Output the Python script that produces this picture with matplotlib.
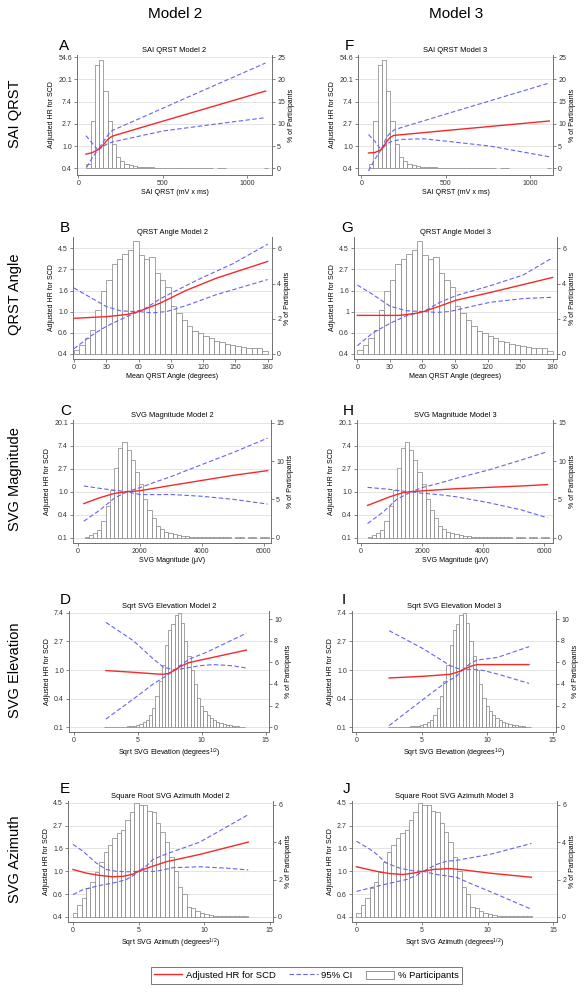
import numpy as np
import matplotlib.pyplot as plt
from matplotlib.lines import Line2D
from matplotlib.patches import Patch

plt.rcParams['font.family'] = ['Liberation Sans', 'DejaVu Sans']
plt.rcParams['mathtext.default'] = 'regular'

W, H = 584, 994

# histograms: % of participants per bin (same for both models)
sai_bins = (47.5, 25)
sai_pct = [1.0, 10.6, 23.2, 24.4, 17.4, 10.6, 5.5, 2.6, 1.6, 1.0, 0.7, 0.5, 0.4, 0.3,
           0.25, 0.2, 0.15, 0.12, 0.1, 0.08, 0.07, 0.06, 0.05, 0.04, 0.03, 0.03, 0.02,
           0.02, 0.01, 0.01, 0, 0.01, 0.01, 0, 0, 0, 0, 0, 0, 0, 0, 0, 0.01]

qrst_bins = (0, 5)
qrst_pct = [0.2, 0.5, 0.9, 1.35, 2.5, 3.6, 4.2, 5.1, 5.4, 5.7, 5.9, 6.4, 5.6, 5.4, 5.5,
            4.6, 4.2, 3.8, 2.7, 2.3, 1.9, 1.6, 1.3, 1.2, 1.0, 0.9, 0.75, 0.65, 0.55,
            0.5, 0.45, 0.4, 0.35, 0.35, 0.3, 0.15]

svg_bins = (230, 135)
svg_pct = [0.1, 0.3, 0.6, 1.0, 2.2, 4.1, 6.2, 9.1, 11.7, 12.5, 11.4, 10.1, 8.6, 7.0,
           5.1, 3.6, 2.6, 1.5, 1.1, 0.75, 0.55, 0.4, 0.3, 0.2, 0.15, 0.1, 0.08, 0.06,
           0.05, 0.04, 0.03, 0.02, 0.02, 0.01, 0.01, 0, 0.01, 0.01, 0, 0.01, 0.01, 0,
           0.01, 0.01]

elev_bins = (2.375, 0.25)
elev_pct = [0.01, 0.01, 0.01, 0.015, 0.02, 0.03, 0.04, 0.06, 0.09, 0.14, 0.2, 0.3,
            0.45, 0.7, 1.1, 1.8, 2.9, 4.3, 5.8, 7.6, 9.0, 9.6, 10.4, 10.6, 9.7, 8.0,
            6.6, 5.3, 4.0, 2.7, 2.0, 1.5, 1.1, 0.85, 0.65, 0.5, 0.4, 0.3, 0.22, 0.17,
            0.12, 0.08, 0.05, 0.03]

azim_bins = (0, 1 / 3)
azim_pct = [0.2, 0.64, 1.0, 1.53, 1.85, 2.38, 2.92, 3.45, 3.84, 4.2, 4.5, 4.63, 5.18,
            5.62, 6.07, 6.0, 6.0, 5.68, 5.62, 5.05, 4.56, 4.0, 3.2, 2.47, 1.6, 1.23,
            0.55, 0.48, 0.3, 0.23, 0.14, 0.09, 0.07, 0.07, 0.07, 0.07, 0.07, 0.07,
            0.07, 0.07]

# spline fits: (x, log HR) for fit, lower and upper 95% CI
sai_fit_m2 = [(45, -0.36), (80, -0.30), (115, -0.17), (130, -0.08), (150, 0.08), (170, 0.27),
              (190, 0.40), (210, 0.47), (400, 0.90), (700, 1.57), (1107, 2.48)]
sai_lo_m2 = [(50, -0.95), (80, -0.55), (115, -0.17), (150, 0.0), (175, 0.12), (210, 0.20),
             (500, 0.68), (800, 0.98), (1107, 1.28)]
sai_hi_m2 = [(45, 0.47), (80, 0.15), (115, -0.17), (150, 0.22), (175, 0.50), (200, 0.70),
             (400, 1.37), (700, 2.38), (1107, 3.74)]

sai_fit_m3 = [(43, -0.31), (80, -0.29), (118, -0.16), (130, -0.03), (150, 0.20), (170, 0.38),
              (191, 0.48), (500, 0.70), (1112, 1.13)]
sai_lo_m3 = [(43, -1.12), (80, -0.60), (118, -0.16), (150, 0.08), (175, 0.20), (230, 0.30),
             (368, 0.33), (506, 0.22), (762, 0.0), (1112, -0.48)]
sai_hi_m3 = [(43, 0.52), (80, 0.22), (118, -0.16), (150, 0.40), (175, 0.62), (201, 0.75),
             (500, 1.44), (1112, 2.84)]

qrst_fit_m2 = [(0, -0.16), (30, -0.12), (49, -0.07), (60, 0.0), (80, 0.20), (104, 0.50),
               (132, 0.79), (180, 1.19)]
qrst_lo_m2 = [(0, -0.88), (15, -0.59), (30, -0.35), (49, -0.12), (60, 0.0), (73, -0.03),
              (86, 0.0), (104, 0.14), (132, 0.40), (180, 0.76)]
qrst_hi_m2 = [(0, 0.56), (15, 0.34), (30, 0.12), (43, 0.02), (55, 0.0), (64, 0.04), (80, 0.30),
              (92, 0.46), (117, 0.78), (148, 1.14), (180, 1.60)]

qrst_fit_m3 = [(0, -0.09), (39, -0.09), (54, -0.04), (61, 0.0), (76, 0.13), (91, 0.27),
               (122, 0.45), (180, 0.81)]
qrst_lo_m3 = [(0, -0.81), (14, -0.51), (30, -0.28), (45, -0.10), (61, 0.0), (73, -0.02),
              (85, 0.0), (98, 0.08), (122, 0.22), (153, 0.31), (180, 0.34)]
qrst_hi_m3 = [(0, 0.63), (14, 0.41), (30, 0.13), (45, 0.02), (61, 0.0), (76, 0.22), (91, 0.38),
              (122, 0.61), (153, 0.87), (180, 1.28)]

svg_fit_m2 = [(200, -0.52), (700, -0.27), (1200, -0.07), (1600, 0.0), (2000, 0.04),
              (3000, 0.27), (4000, 0.49), (5000, 0.71), (6130, 0.92)]
svg_lo_m2 = [(200, -1.29), (700, -0.82), (1200, -0.27), (1600, 0.0), (2000, -0.12),
             (2500, -0.13), (3000, -0.12), (4000, -0.20), (5000, -0.33), (6130, -0.54)]
svg_hi_m2 = [(200, 0.25), (700, 0.15), (1200, 0.06), (1600, 0.0), (2000, 0.17), (2500, 0.42),
             (3000, 0.65), (4000, 1.18), (5000, 1.70), (6130, 2.34)]

svg_fit_m3 = [(216, -0.60), (950, -0.22), (1382, -0.04), (1650, 0.0), (2030, 0.04),
              (3110, 0.13), (4190, 0.19), (5270, 0.25), (6112, 0.31)]
svg_lo_m3 = [(216, -1.39), (734, -0.88), (1166, -0.34), (1650, 0.0), (2030, -0.07),
             (2570, -0.13), (3110, -0.22), (4190, -0.48), (5270, -0.80), (6112, -1.14)]
svg_hi_m3 = [(216, 0.19), (950, 0.10), (1400, 0.02), (1650, 0.0), (2030, 0.19), (2570, 0.37),
             (3110, 0.58), (4190, 0.95), (5270, 1.39), (6112, 1.75)]

elev_fit_m2 = [(2.5, -0.02), (4.64, -0.08), (6.46, -0.14), (7.0, -0.15), (7.4, -0.12),
               (7.9, 0.0), (8.3, 0.12), (9.0, 0.26), (11.15, 0.47), (13.49, 0.70)]
elev_lo_m2 = [(2.5, -1.72), (4.64, -1.02), (6.2, -0.49), (7.24, -0.20), (7.9, 0.0), (8.8, 0.07),
              (9.84, 0.15), (10.9, 0.19), (12.4, 0.15), (13.49, 0.07)]
elev_hi_m2 = [(2.5, 1.67), (4.64, 1.03), (6.2, 0.39), (7.0, 0.10), (7.9, 0.0), (8.3, 0.16),
              (9.06, 0.39), (10.36, 0.62), (13.49, 1.29)]

elev_fit_m3 = [(2.5, -0.28), (5.13, -0.22), (7.18, -0.15), (7.69, -0.08), (8.1, 0.0),
               (8.85, 0.15), (9.23, 0.19), (13.2, 0.19)]
elev_lo_m3 = [(2.5, -1.95), (5.13, -1.02), (6.67, -0.49), (7.69, -0.20), (8.1, 0.0),
              (8.97, 0.02), (9.74, -0.02), (10.77, -0.14), (13.2, -0.47)]
elev_hi_m3 = [(2.5, 1.38), (5.13, 0.74), (7.18, 0.15), (8.1, 0.0), (8.72, 0.23), (9.23, 0.35),
              (10.77, 0.44), (13.2, 0.82)]

azim_fit_m2 = [(0, 0.04), (1.02, -0.04), (2.04, -0.09), (3.05, -0.12), (3.82, -0.11),
               (4.58, -0.06), (5.0, 0.0), (5.85, 0.09), (7.12, 0.21), (9.67, 0.37), (13.36, 0.64)]
azim_lo_m2 = [(0, -0.51), (0.76, -0.40), (2.04, -0.31), (3.31, -0.24), (4.07, -0.18),
              (4.6, -0.09), (5.0, 0.0), (5.5, 0.0), (6.36, 0.0), (7.63, 0.08), (9.67, 0.10),
              (11.7, 0.07), (13.36, 0.03)]
azim_hi_m2 = [(0, 0.59), (0.76, 0.44), (1.78, 0.18), (2.54, 0.04), (3.31, 0.0), (4.2, -0.01),
              (5.0, 0.0), (5.6, 0.12), (6.1, 0.26), (7.12, 0.38), (9.67, 0.64), (13.36, 1.24)]

azim_fit_m3 = [(0, 0.10), (1.52, 0.0), (2.54, -0.05), (3.55, -0.07), (4.31, -0.04), (5.08, 0.0),
               (5.84, 0.04), (7.1, 0.06), (7.87, 0.04), (10.15, -0.04), (13.32, -0.13)]
azim_lo_m3 = [(0, -0.44), (1.52, -0.33), (2.54, -0.26), (3.8, -0.18), (4.57, -0.09),
              (5.08, 0.0), (6.09, -0.07), (7.61, -0.13), (8.63, -0.26), (10.15, -0.44),
              (13.32, -0.83)]
azim_hi_m3 = [(0, 0.66), (1.27, 0.44), (2.28, 0.18), (3.3, 0.07), (4.31, 0.01), (5.08, 0.0),
              (6.09, 0.15), (6.85, 0.22), (7.61, 0.24), (10.15, 0.37), (13.32, 0.61)]

RED = '#f42a2a'
BLUE = '#6464f0'
BAR_EDGE = '#808080'
AXCOL = '#707070'
GRID = '#e4e4e4'

fig = plt.figure(figsize=(W / 100, H / 100), dpi=100)


def fig_rect(left, top, right, bottom):
    return [left / W, 1 - bottom / H, (right - left) / W, (bottom - top) / H]


def hr_labels(ticks):
    return ['%.1f' % np.exp(t) for t in ticks]


def draw_panel(box, letter, letter_xy, title, xlabel, bins, pct, curves, xlim, xticks,
               ylim, yticks, ylabels, pct_lim, pct_ticks):
    start, width = bins
    pct = np.array(pct, dtype=float)
    centers = start + width * (np.arange(len(pct)) + 0.5)
    keep = pct > 0

    ax_h = fig.add_axes(fig_rect(*box))
    ax_h.set_xlim(xlim)
    ax_h.set_ylim(pct_lim)

    # grid lines at the HR ticks, behind the bars
    for t in yticks:
        frac = (t - ylim[0]) / (ylim[1] - ylim[0])
        ax_h.plot([0, 1], [frac, frac], transform=ax_h.transAxes, color=GRID,
                  lw=0.7, zorder=0)

    ax_h.bar(centers[keep], pct[keep], width=width, facecolor='white',
             edgecolor=BAR_EDGE, linewidth=0.5, zorder=2)

    ax_c = ax_h.twinx()
    ax_c.set_ylim(ylim)
    fit, lo, hi = curves
    for pts in (lo, hi):
        x, y = zip(*pts)
        ax_c.plot(x, y, color=BLUE, lw=0.8, dashes=(4, 2.2))
    x, y = zip(*fit)
    ax_c.plot(x, y, color=RED, lw=1.0)

    ax_h.yaxis.tick_right()
    ax_h.yaxis.set_label_position('right')
    ax_h.set_yticks(pct_ticks)
    ax_h.set_xticks(xticks)
    ax_h.set_ylabel('% of Participants', fontsize=5.0, labelpad=2)
    ax_h.set_xlabel(xlabel, fontsize=5.1, labelpad=1.5)
    ax_h.set_title(title, fontsize=5.4, pad=2.5)

    ax_c.yaxis.tick_left()
    ax_c.yaxis.set_label_position('left')
    ax_c.set_yticks(yticks)
    ax_c.set_yticklabels(ylabels)
    ax_c.set_ylabel('Adjusted HR for SCD', fontsize=5.0, labelpad=2)

    for a in (ax_h, ax_c):
        a.tick_params(direction='out', length=2.2, width=0.6, color=AXCOL,
                      labelsize=5.0, pad=1.5, labelcolor='#333333')
        a.spines['top'].set_visible(False)
    for s in ax_c.spines.values():
        s.set_visible(False)
    for s in ('left', 'bottom', 'right'):
        ax_h.spines[s].set_color(AXCOL)
        ax_h.spines[s].set_linewidth(0.7)

    fig.text(letter_xy[0] / W, 1 - letter_xy[1] / H, letter, fontsize=11,
             ha='left', va='baseline')


sai_yt = [-1, 0, 1, 2, 3, 4]
half_yt = [-1, -0.5, 0, 0.5, 1, 1.5]
svg_yt = [-2, -1, 0, 1, 2, 3]
elev_yt = [-2, -1, 0, 1, 2]

qrst_labels_m3 = hr_labels(half_yt)
qrst_labels_m3[2] = '1'

panels = [
    # SAI QRST
    ((77, 55, 272, 175), 'A', (59, 50), 'SAI QRST Model 2', 'SAI QRST (mV x ms)',
     sai_bins, sai_pct, (sai_fit_m2, sai_lo_m2, sai_hi_m2), (-8, 1145), [0, 500, 1000],
     (-1.3, 4.1), sai_yt, hr_labels(sai_yt), (-1.5, 25.5), [0, 5, 10, 15, 20, 25]),
    ((358, 55, 553, 175), 'F', (345, 50), 'SAI QRST Model 3', 'SAI QRST (mV x ms)',
     sai_bins, sai_pct, (sai_fit_m3, sai_lo_m3, sai_hi_m3), (-19, 1134), [0, 500, 1000],
     (-1.3, 4.1), sai_yt, hr_labels(sai_yt), (-1.5, 25.5), [0, 5, 10, 15, 20, 25]),
    # QRST angle
    ((73, 237, 272, 359), 'B', (60, 232), 'QRST Angle Model 2', 'Mean QRST Angle (degrees)',
     qrst_bins, qrst_pct, (qrst_fit_m2, qrst_lo_m2, qrst_hi_m2), (-0.9, 184),
     list(range(0, 181, 30)), (-1.125, 1.77), half_yt, hr_labels(half_yt), (-0.3, 6.65),
     [0, 2, 4, 6]),
    ((354, 237, 557, 359), 'G', (341, 232), 'QRST Angle Model 3', 'Mean QRST Angle (degrees)',
     qrst_bins, qrst_pct, (qrst_fit_m3, qrst_lo_m3, qrst_hi_m3), (-3.1, 184),
     list(range(0, 181, 30)), (-1.125, 1.77), half_yt, qrst_labels_m3, (-0.3, 6.65),
     [0, 2, 4, 6]),
    # SVG magnitude
    ((73, 420, 271, 543), 'C', (60, 415), 'SVG Magnitude Model 2', 'SVG Magnitude (μV)',
     svg_bins, svg_pct, (svg_fit_m2, svg_lo_m2, svg_hi_m2), (-148, 6239),
     [0, 2000, 4000, 6000], (-2.24, 3.13), svg_yt, hr_labels(svg_yt), (-0.72, 15.39),
     [0, 5, 10, 15]),
    ((357, 420, 553, 543), 'H', (343, 415), 'SVG Magnitude Model 3', 'SVG Magnitude (μV)',
     svg_bins, svg_pct, (svg_fit_m3, svg_lo_m3, svg_hi_m3), (-130, 6294),
     [0, 2000, 4000, 6000], (-2.24, 3.13), svg_yt, hr_labels(svg_yt), (-0.72, 15.39),
     [0, 5, 10, 15]),
    # SVG elevation
    ((69, 611, 269, 732), 'D', (60, 604), 'Sqrt SVG Elevation Model 2',
     'Sqrt SVG Elevation (degrees$^{1/2}$)', elev_bins, elev_pct,
     (elev_fit_m2, elev_lo_m2, elev_hi_m2), (-0.39, 15.26), [0, 5, 10, 15],
     (-2.175, 2.07), elev_yt, hr_labels(elev_yt), (-0.46, 10.78), [0, 2, 4, 6, 8, 10]),
    ((352, 611, 556, 732), 'I', (342, 604), 'Sqrt SVG Elevation Model 3',
     'Sqrt SVG Elevation (degrees$^{1/2}$)', elev_bins, elev_pct,
     (elev_fit_m3, elev_lo_m3, elev_hi_m3), (-0.34, 15.26), [0, 5, 10, 15],
     (-2.175, 2.07), elev_yt, hr_labels(elev_yt), (-0.46, 10.78), [0, 2, 4, 6, 8, 10]),
    # SVG azimuth
    ((68, 801, 273, 922), 'E', (60, 793), 'Square Root SVG Azimuth Model 2',
     'Sqrt SVG Azimuth (degrees$^{1/2}$)', azim_bins, azim_pct,
     (azim_fit_m2, azim_lo_m2, azim_hi_m2), (-0.38, 15.25), [0, 5, 10, 15],
     (-1.11, 1.54), half_yt, hr_labels(half_yt), (-0.27, 6.2), [0, 2, 4, 6]),
    ((352, 801, 557, 922), 'J', (343, 793), 'Square Root SVG Azimuth Model 3',
     'Sqrt SVG Azimuth (degrees$^{1/2}$)', azim_bins, azim_pct,
     (azim_fit_m3, azim_lo_m3, azim_hi_m3), (-0.34, 15.27), [0, 5, 10, 15],
     (-1.11, 1.54), half_yt, hr_labels(half_yt), (-0.27, 6.2), [0, 2, 4, 6]),
]

for p in panels:
    draw_panel(*p)

# column and row headings
fig.text(175 / W, 1 - 14 / H, 'Model 2', fontsize=11, ha='center', va='center')
fig.text(456 / W, 1 - 14 / H, 'Model 3', fontsize=11, ha='center', va='center')

row_names = ['SAI QRST', 'QRST Angle', 'SVG Magnitude', 'SVG Elevation', 'SVG Azimuth']
row_y = [114, 294, 479, 670, 859]
for name, y in zip(row_names, row_y):
    fig.text(15 / W, 1 - y / H, name, fontsize=10.5, rotation=90, ha='center', va='center')

handles = [Line2D([], [], color=RED, lw=1.0),
           Line2D([], [], color=BLUE, lw=0.8, dashes=(4, 2.2)),
           Patch(facecolor='white', edgecolor=BAR_EDGE, linewidth=0.6)]
leg = fig.legend(handles, ['Adjusted HR for SCD', '95% CI', '% Participants'],
                 loc='center', bbox_to_anchor=(306.5 / W, 1 - 975.5 / H), ncol=3,
                 fontsize=6.8, frameon=True, fancybox=False, handlelength=3.0,
                 handleheight=1.0, handletextpad=0.4, columnspacing=1.4, borderpad=0.35)
leg.get_frame().set_edgecolor('#555555')
leg.get_frame().set_linewidth(0.7)

fig.savefig('out.png', dpi=100)
